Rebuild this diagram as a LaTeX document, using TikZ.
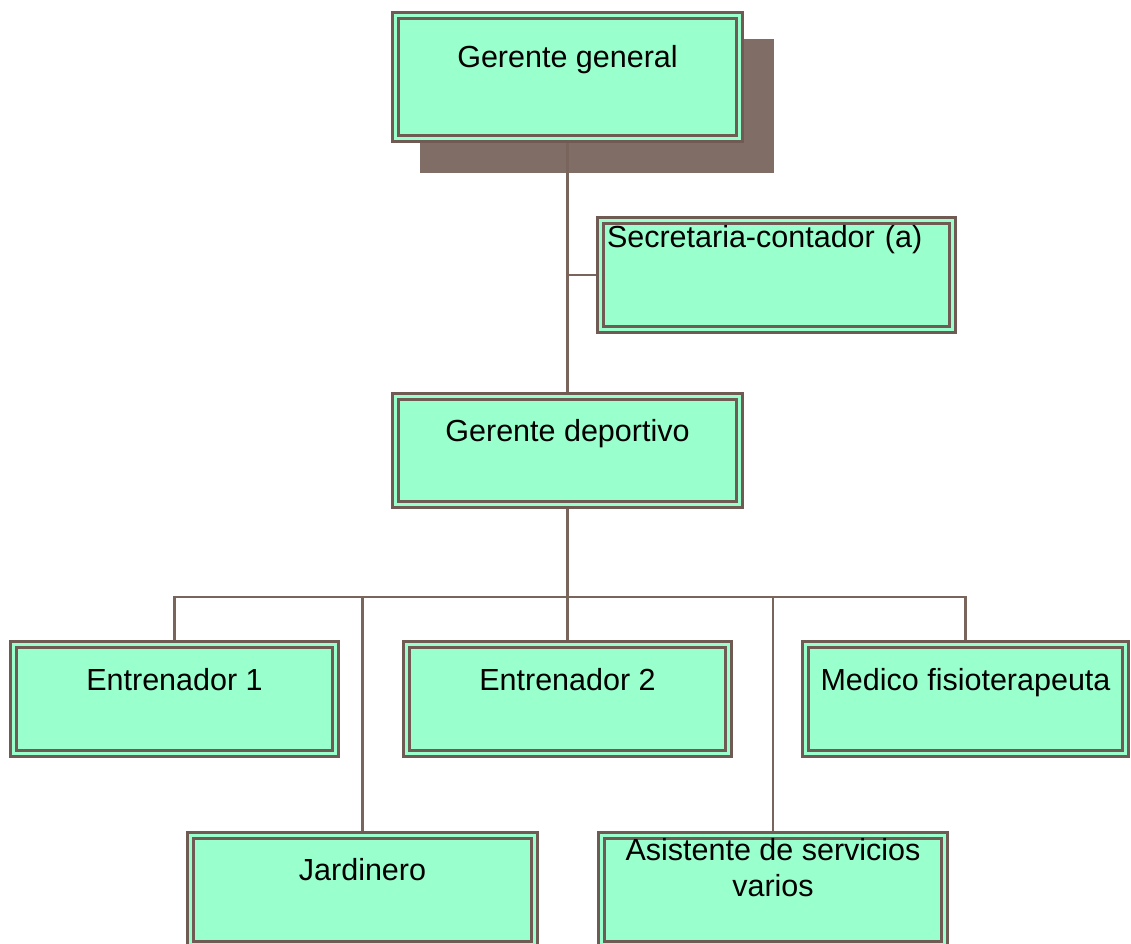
\documentclass[tikz,border=0pt]{standalone}
\usepackage{fontspec}
\setmainfont{Liberation Sans}
\usetikzlibrary{positioning, backgrounds}
\definecolor{cajaverde}{HTML}{99FFCC}
\definecolor{bordecafe}{HTML}{705B54}
\definecolor{sombracafe}{HTML}{806E66}
\definecolor{lineacafe}{HTML}{7A655D}

\begin{document}
\begin{tikzpicture}[
    x=1pt, y=-1pt,
    puesto/.style={rectangle, draw=bordecafe, line width=2.8pt, double=cajaverde, double distance=3pt, fill=cajaverde, inner sep=0pt, outer sep=0pt, align=center, font=\fontsize{30.5}{36}\selectfont},
    linea/.style={draw=lineacafe, line width=2.8pt}
]
    \useasboundingbox (0,0) rectangle (1131,943);

    % Nodes
    \node[puesto, minimum width=344.5pt, text height=51.75pt, text depth=71.75pt] (general) at (567.5,77) {Gerente general};
    \node[puesto, text width=339pt, align=left, inner xsep=6.75pt, text height=26.75pt, text depth=82.75pt] (secretaria) at (776.5,275) {Secretaria-contador (a)};
    \node[puesto, minimum width=344.5pt, text height=44.75pt, text depth=63.75pt] (deportivo) at (567.5,450.5) {Gerente deportivo};

    \node[puesto, minimum width=321.5pt, text height=45.75pt, text depth=63.75pt] (entrenador2) at (567.5,699) {Entrenador 2};
    \node[puesto, minimum width=321.5pt, text height=45.75pt, text depth=63.75pt] (entrenador1) [left=71.5pt of entrenador2] {Entrenador 1};
    \node[puesto, minimum width=319.5pt, text height=45.75pt, text depth=63.75pt] (medico) [right=77.5pt of entrenador2] {Medico fisioterapeuta};

    \node[puesto, minimum width=344.5pt, text height=44.75pt, text depth=64.75pt] (jardinero) at (362.5,890) {Jardinero};
    \node[puesto, minimum width=343.5pt, text height=60.75pt, text depth=48.75pt] (asistente) at (773,890) {Asistente de servicios\\varios};

    \begin{scope}[on background layer]
        % Shadow
        \fill[sombracafe] ([xshift=24.75pt, yshift=-34.25pt]general.south west) rectangle ([xshift=34.25pt, yshift=-23.75pt]general.north east);

        % Lines
        \coordinate (bus) at (567.5,597);
        \draw[linea] (general.south) -- (deportivo.north);
        \draw[linea] (general.south |- secretaria.west) -- (secretaria.west);
        \draw[linea] (deportivo.south) -- (entrenador2.north);
        \draw[linea] (entrenador1.north) -- (entrenador1.north |- bus) -- (medico.north |- bus) -- (medico.north);
        \draw[linea] (jardinero.north) -- (jardinero.north |- bus);
        \draw[linea] (asistente.north) -- (asistente.north |- bus);
    \end{scope}
\end{tikzpicture}
\end{document}
